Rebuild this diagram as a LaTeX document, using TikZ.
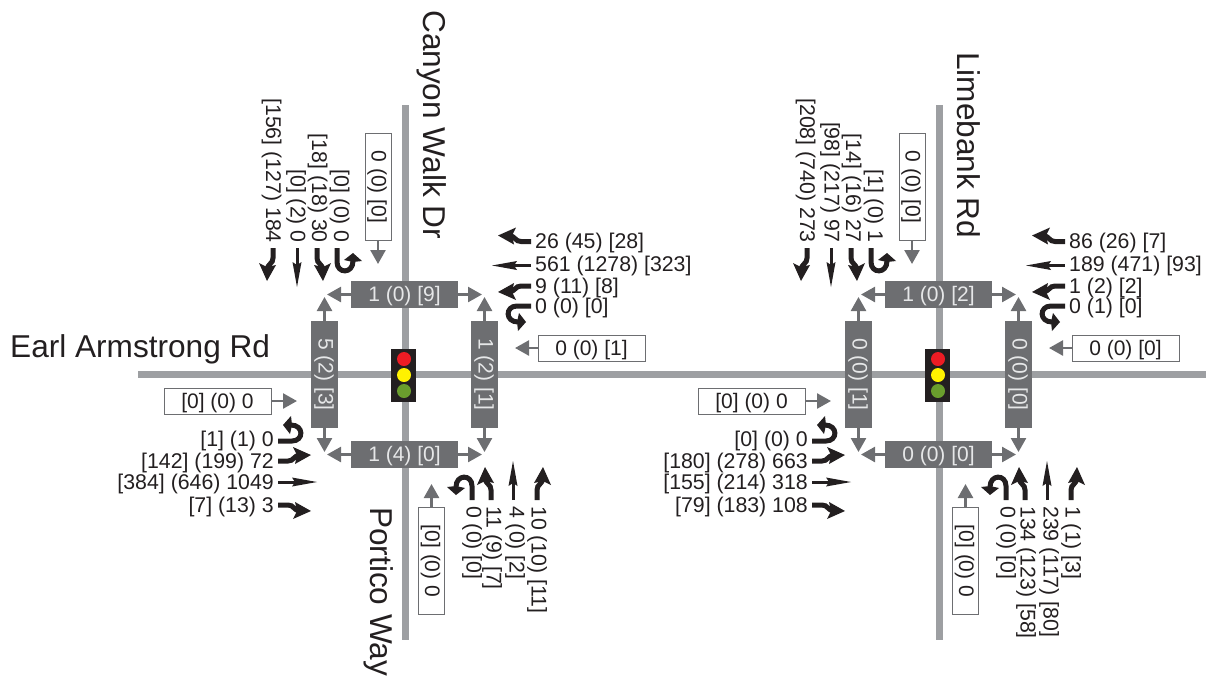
\documentclass[tikz,border=0pt]{standalone}
\usepackage{fontspec}
\setmainfont{Liberation Sans}
\usetikzlibrary{arrows.meta,positioning}
\definecolor{road}{HTML}{9D9FA2}
\definecolor{bar}{HTML}{6D6E71}
\definecolor{ink}{HTML}{231F20}
\definecolor{barink}{HTML}{E6E7E8}
\definecolor{sigred}{HTML}{ED1C24}
\definecolor{sigyel}{HTML}{FFF200}
\definecolor{siggrn}{HTML}{6A9E2D}
\tikzset{lab/.style={font=\fontsize{21.3}{24}\selectfont,text=ink,inner sep=0pt,text height=15pt,text depth=0pt},
nlab/.style={lab,rotate=-90,anchor=east},slab/.style={lab,rotate=-90,anchor=west},wlab/.style={lab,anchor=east},elab/.style={lab,anchor=west},
street/.style={font=\fontsize{31.6}{36}\selectfont,text=ink,inner sep=0pt,text height=23pt,text depth=0pt},
hbar/.style={fill=bar,text=barink,font=\fontsize{21}{24}\selectfont,minimum width=107pt,minimum height=27pt,inner sep=0pt,text height=15pt,text depth=1pt},
vbar/.style={hbar,rotate=-90,text depth=3pt},
hbox/.style={draw=bar,line width=.8pt,fill=white,text=ink,font=\fontsize{21}{24}\selectfont,minimum width=107pt,minimum height=26pt,inner sep=0pt,text height=15pt,text depth=0pt},
vbox/.style={hbox,rotate=-90,text depth=2pt},
arr/.style={-{Triangle[length=14pt,width=15pt]},line width=2.5pt,draw=bar},
rd/.style={draw=road,line width=7pt},
mvt/.style={line width=5pt,draw=ink},
pics/uturn/.style={code={\draw[mvt](0,0)--(0,-14)..controls(0,-26)and(-16,-26)..(-16,-13);\fill[ink](-25,-13)--(-16,-14)--(-7,-12)--(-16,-5)--cycle;}},
pics/leftturn/.style={code={\draw[mvt](0,0)--(0,-10)..controls(0,-16)and(-5,-15)..(-6,-22);\fill[ink](-6,-33)--(-14,-15)--(-6,-19)--(3,-17)--cycle;}},
pics/rightturn/.style={code={\draw[mvt](0,0)--(0,-10)..controls(0,-16)and(5,-15)..(6,-22);\fill[ink](6,-33)--(14,-15)--(6,-19)--(-3,-17)--cycle;}},
pics/thrumove/.style={code={\draw[ink,line width=3pt](0,0)--(0,-18);\fill[ink](0,-39)--(-4.5,-14)--(0,-17)--(4.5,-14)--cycle;}}}
% bars, boxes, signal and icons of one junction
\newcommand{\junction}[8]{
\draw[rd](405,105)--(405,640);
\node[hbar](bn)at(404.5,294.5){#1};\node[vbar](bw)at(324.5,374.5){#2};\node[vbar](be)at(484.5,374.5){#3};\node[hbar](bs)at(404.5,454.5){#4};
\coordinate(nw1)at(327,294.5);\coordinate(ne1)at(482,294.5);\coordinate(nw2)at(324.5,297);\coordinate(ne2)at(484.5,297);
\coordinate(sw1)at(327,454.5);\coordinate(se1)at(482,454.5);\coordinate(sw2)at(324.5,452);\coordinate(se2)at(484.5,452);
\draw[arr](bn)--(nw1);\draw[arr](bn)--(ne1);\draw[arr](bw)--(nw2);\draw[arr](be)--(ne2);
\draw[arr](bs)--(sw1);\draw[arr](bs)--(se1);\draw[arr](bw)--(sw2);\draw[arr](be)--(se2);
\node[vbox](pn)at(378,187){#5};\node[hbox](pe)at(591.5,348){#6};\node[vbox](ps)at(431.5,561){#7};\node[hbox](pw)at(217.5,401){#8};
\coordinate(pn1)at(378,264);\coordinate(pe1)at(515,348);\coordinate(ps1)at(431.5,484);\coordinate(pw1)at(297,401);
\draw[arr](pn)--(pn1);\draw[arr](pe)--(pe1);\draw[arr](ps)--(ps1);\draw[arr](pw)--(pw1);
\node[fill=ink,minimum width=25pt,minimum height=53pt,inner sep=0pt](sig)at(403.5,375.5){};
\fill[sigred](404,359)circle(7);\fill[sigyel](404,375)circle(7);\fill[siggrn](404,391)circle(7);
\pic[rotate=180]at(273,248){rightturn};\pic[rotate=180]at(297,248){thrumove};\pic[rotate=180]at(317,248){leftturn};\pic[rotate=180]at(337,248){uturn};
\pic[rotate=90]at(531,241.5){rightturn};\pic[rotate=90]at(531,265.5){thrumove};\pic[rotate=90]at(531,286){leftturn};\pic[rotate=90]at(531,306){uturn};
\pic at(472,500){uturn};\pic at(491,500){leftturn};\pic at(513,500){thrumove};\pic at(537,500){rightturn};
\pic[rotate=-90]at(278,441){uturn};\pic[rotate=-90]at(278,461){leftturn};\pic[rotate=-90]at(278,482){thrumove};\pic[rotate=-90]at(278,505){rightturn};
}
\begin{document}
\begin{tikzpicture}[x=1pt,y=-1pt]
\useasboundingbox(0,0)rectangle(1206,681);
\draw[rd](138,374.5)--(1206,374.5);
\begin{scope}[name prefix=a-]
\junction{1 (0) [9]}{5 (2) [3]}{1 (2) [1]}{1 (4) [0]}{0 (0) [0]}{0 (0) [1]}{[0] (0) 0}{[0] (0) 0}
\node[nlab](nr)at(273.5,243){[156] (127) 184};\node[nlab](nt)at(298,243){[0] (2) 0};\node[nlab](nl)at(319.5,243){[18] (18) 30};\node[nlab](nu)at(341.5,243){[0] (0) 0};
\node[elab](er)at(535,241){26 (45) [28]};\node[elab](et)at(535,264){561 (1278) [323]};\node[elab](el)at(535,286){9 (11) [8]};\node[elab](eu)at(535,306){0 (0) [0]};
\node[slab](su)at(474,506){0 (0) [0]};\node[slab](sl)at(494,506){11 (9) [7]};\node[slab](st)at(517,506){4 (0) [2]};\node[slab](sr)at(539,506){10 (10) [11]};
\node[wlab](wu)at(274,439){[1] (1) 0};\node[wlab](wl)at(274,460.5){[142] (199) 72};\node[wlab](wt)at(274,482){[384] (646) 1049};\node[wlab](wr)at(274,505){[7] (13) 3};
\end{scope}
\begin{scope}[shift={(534,0)},name prefix=b-]
\junction{1 (0) [2]}{0 (0) [1]}{0 (0) [0]}{0 (0) [0]}{0 (0) [0]}{0 (0) [0]}{[0] (0) 0}{[0] (0) 0}
\node[nlab](nr)at(273.5,243){[208] (740) 273};\node[nlab](nt)at(298,243){[98] (217) 97};\node[nlab](nl)at(319.5,243){[14] (16) 27};\node[nlab](nu)at(341.5,243){[1] (0) 1};
\node[elab](er)at(535,241){86 (26) [7]};\node[elab](et)at(535,264){189 (471) [93]};\node[elab](el)at(535,286){1 (2) [2]};\node[elab](eu)at(535,306){0 (1) [0]};
\node[slab](su)at(474,506){0 (0) [0]};\node[slab](sl)at(494,506){134 (123) [58]};\node[slab](st)at(517,506){239 (117) [80]};\node[slab](sr)at(539,506){1 (1) [3]};
\node[wlab](wu)at(274,439){[0] (0) 0};\node[wlab](wl)at(274,460.5){[180] (278) 663};\node[wlab](wt)at(274,482){[155] (214) 318};\node[wlab](wr)at(274,505){[79] (183) 108};
\end{scope}
\node[street,anchor=west](earl)at(10,346){Earl Armstrong Rd};
\node[street,rotate=-90,anchor=west](canyon)at(435,10){Canyon Walk Dr};
\node[street,rotate=-90,anchor=west](portico)at(381.5,507){Portico Way};
\node[street,rotate=-90,anchor=west](limebank)at(968.5,52){Limebank Rd};
\end{tikzpicture}
\end{document}
